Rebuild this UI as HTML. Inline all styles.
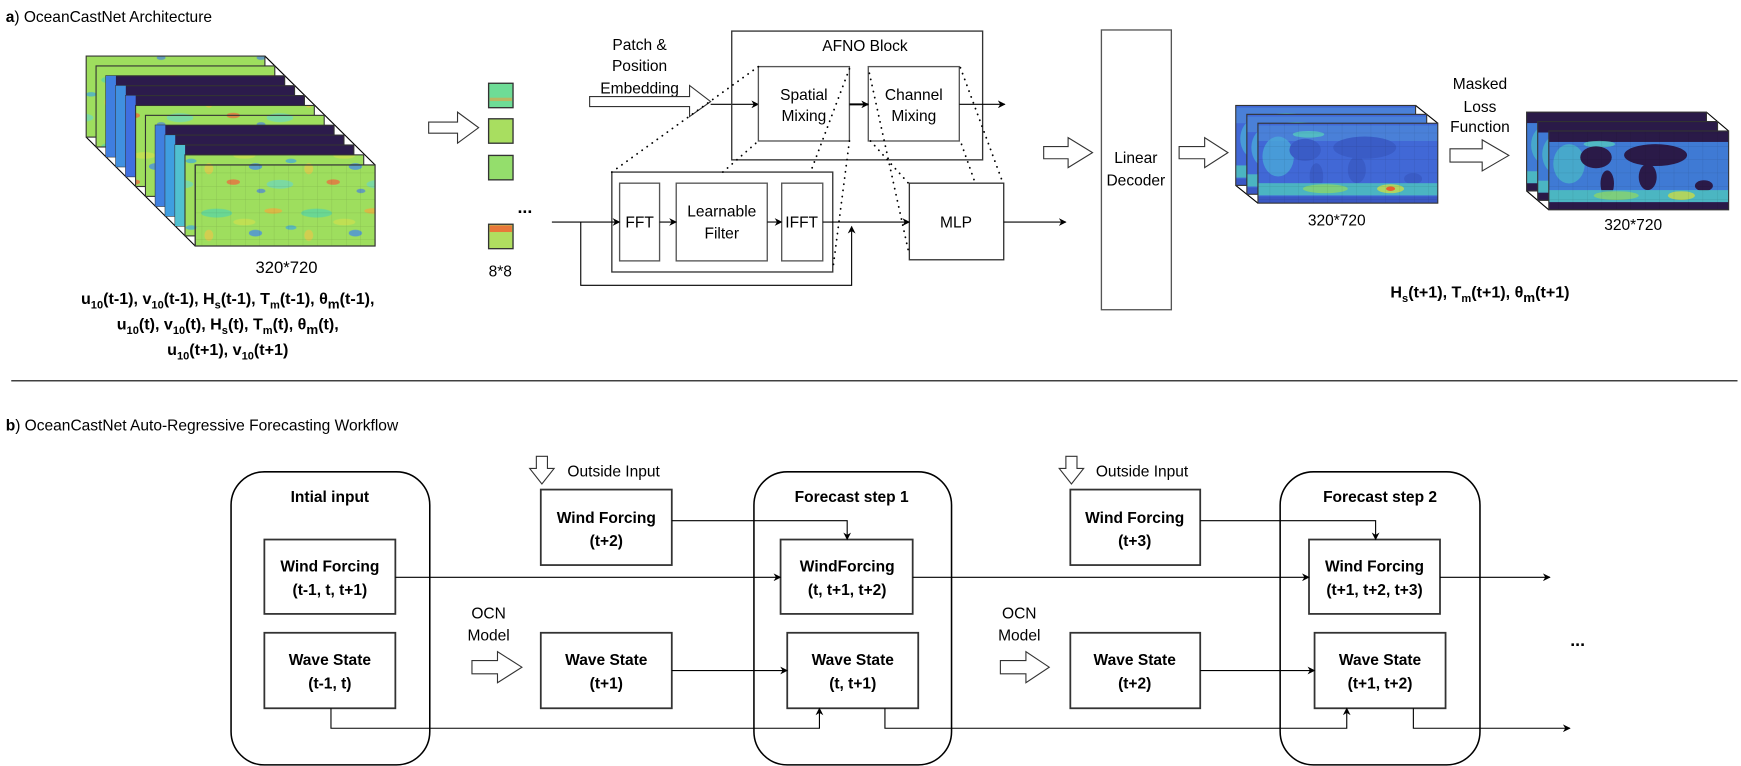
<!DOCTYPE html>
<html><head><meta charset="utf-8"><style>
html,body{margin:0;padding:0;background:#fff;}
svg{display:block;}
text{font-family:"Liberation Sans",sans-serif;fill:#000;}
</style></head><body>
<svg width="1741" height="766" viewBox="0 0 1568 690" xmlns="http://www.w3.org/2000/svg">
<defs>
<marker id="ar" viewBox="0 0 10 10" refX="9" refY="5" markerWidth="7" markerHeight="7" orient="auto" markerUnits="userSpaceOnUse"><path d="M0,0 L10,5 L0,10 L3,5 z" fill="#000" stroke="none"/></marker>
<pattern id="grid" width="13" height="12" patternUnits="userSpaceOnUse"><path d="M13,0 V12 M0,12 H13" stroke="#000" stroke-opacity="0.15" stroke-width="0.6" fill="none"/></pattern>
<pattern id="wind" width="90" height="60" patternUnits="userSpaceOnUse">
<g stroke="none">
<rect width="90" height="60" fill="#9ede5e"/>
<ellipse cx="15" cy="12" rx="14" ry="4" fill="#5cd6a0" opacity="0.8"/>
<ellipse cx="50" cy="30" rx="6" ry="3" fill="#4a90e0" opacity="0.8"/>
<ellipse cx="66" cy="10" rx="8" ry="2.5" fill="#e8b040" opacity="0.8"/>
<ellipse cx="30" cy="44" rx="6" ry="2.5" fill="#e87040" opacity="0.8"/>
<ellipse cx="72" cy="46" rx="12" ry="4" fill="#6cd8c0" opacity="0.7"/>
<ellipse cx="8" cy="32" rx="4" ry="5" fill="#e8c84a" opacity="0.7"/>
<ellipse cx="40" cy="20" rx="10" ry="3" fill="#c8e050" opacity="0.8"/>
<ellipse cx="82" cy="25" rx="5" ry="2" fill="#3fa8e0" opacity="0.7"/>
<ellipse cx="55" cy="52" rx="4" ry="2" fill="#4a80e0" opacity="0.7"/>
</g>
</pattern>
<symbol id="wave" viewBox="0 0 160 72" preserveAspectRatio="none">
<g stroke="none">
<rect width="160" height="72" fill="#4168d6"/>
<rect y="2" width="160" height="14" fill="#4a80d8"/>
<ellipse cx="45" cy="10" rx="14" ry="3" fill="#55c8c0" opacity="0.8"/>
<ellipse cx="18" cy="30" rx="14" ry="18" fill="#4aa8d8" opacity="0.8"/>
<ellipse cx="42" cy="24" rx="14" ry="10" fill="#3a5cc6"/>
<ellipse cx="52" cy="48" rx="6" ry="12" fill="#3a5cc6"/>
<ellipse cx="95" cy="22" rx="28" ry="10" fill="#3a5cc6"/>
<ellipse cx="88" cy="42" rx="8" ry="12" fill="#3a5cc6"/>
<ellipse cx="138" cy="50" rx="8" ry="5" fill="#3a5cc6"/>
<rect y="54" width="160" height="11" fill="#4cbcc0" opacity="0.9"/>
<ellipse cx="60" cy="59" rx="20" ry="4" fill="#8ad46c" opacity="0.8"/>
<ellipse cx="118" cy="59" rx="12" ry="4" fill="#c8dc48" opacity="0.8"/>
<ellipse cx="118" cy="59" rx="4" ry="2" fill="#e86030"/>
<rect y="66" width="160" height="6" fill="#3a58c4"/>
</g>
</symbol>
<symbol id="mwave" viewBox="0 0 160 72" preserveAspectRatio="none">
<g stroke="none">
<rect width="160" height="72" fill="#3f7ad4"/>
<rect width="160" height="10" fill="#2a1a48"/>
<ellipse cx="45" cy="12" rx="14" ry="3" fill="#55c8c0" opacity="0.8"/>
<ellipse cx="18" cy="30" rx="14" ry="18" fill="#4ab4c8" opacity="0.8"/>
<ellipse cx="42" cy="24" rx="14" ry="10" fill="#2a1a48"/>
<ellipse cx="52" cy="48" rx="6" ry="12" fill="#2a1a48"/>
<ellipse cx="95" cy="22" rx="28" ry="10" fill="#2a1a48"/>
<ellipse cx="88" cy="42" rx="8" ry="12" fill="#2a1a48"/>
<ellipse cx="138" cy="50" rx="8" ry="5" fill="#2a1a48"/>
<rect y="54" width="160" height="11" fill="#4cbcc0" opacity="0.9"/>
<ellipse cx="60" cy="59" rx="20" ry="4" fill="#8ad46c" opacity="0.8"/>
<ellipse cx="118" cy="59" rx="12" ry="4" fill="#c8dc48" opacity="0.8"/>
<rect y="65" width="160" height="7" fill="#2a1a48"/>
</g>
</symbol>
</defs>

<text x="5" y="20" font-size="14"><tspan font-weight="bold">a</tspan>) OceanCastNet Architecture</text>

<g stroke="#333" stroke-width="1">
<line x1="238.5" y1="50.5" x2="337.8" y2="148.6" stroke="#000"/>
<line x1="77.5" y1="123.5" x2="175.7" y2="221.6" stroke="#000"/>
<rect x="77.5" y="50.5" width="161" height="73" fill="url(#wind)"/>
<rect x="86.4" y="59.4" width="161" height="73" fill="url(#wind)"/>
<rect x="95.3" y="68.3" width="161" height="73" fill="#2c1b4c"/><rect x="95.3" y="68.3" width="9" height="73" fill="#3f7ee0" stroke="none"/>
<rect x="104.2" y="77.2" width="161" height="73" fill="#2c1b4c"/><rect x="104.2" y="77.2" width="9" height="73" fill="#4090e0" stroke="none"/>
<rect x="113.1" y="86.1" width="161" height="73" fill="#2c1b4c"/><rect x="113.1" y="86.1" width="9" height="73" fill="#3f6fe0" stroke="none"/>
<rect x="122" y="95" width="161" height="73" fill="url(#wind)"/>
<rect x="130.9" y="103.9" width="161" height="73" fill="url(#wind)"/>
<rect x="139.8" y="112.8" width="161" height="73" fill="#2c1b4c"/><rect x="139.8" y="112.8" width="9" height="73" fill="#4080e0" stroke="none"/>
<rect x="148.7" y="121.7" width="161" height="73" fill="#2c1b4c"/><rect x="148.7" y="121.7" width="9" height="73" fill="#3f9ee0" stroke="none"/>
<rect x="157.6" y="130.6" width="161" height="73" fill="#2c1b4c"/><rect x="157.6" y="130.6" width="9" height="73" fill="#50c0d0" stroke="none"/>
<rect x="166.5" y="139.5" width="161" height="73" fill="url(#wind)"/>
<rect x="175.7" y="148.6" width="162" height="73" fill="url(#wind)"/>
<rect x="175.7" y="148.6" width="162" height="73" fill="url(#grid)"/>
</g>
<text x="230" y="246" font-size="15">320*720</text>
<g font-size="14.5" font-weight="bold" text-anchor="middle">
<text x="205" y="274">u<tspan font-size="10" dy="4">10</tspan><tspan dy="-4">(t-1), v</tspan><tspan font-size="10" dy="4">10</tspan><tspan dy="-4">(t-1), H</tspan><tspan font-size="10" dy="4">s</tspan><tspan dy="-4">(t-1), T</tspan><tspan font-size="10" dy="4">m</tspan><tspan dy="-4">(t-1), θ</tspan><tspan font-size="12" dy="4">m</tspan><tspan dy="-4">(t-1),</tspan></text>
<text x="205" y="297">u<tspan font-size="10" dy="4">10</tspan><tspan dy="-4">(t), v</tspan><tspan font-size="10" dy="4">10</tspan><tspan dy="-4">(t), H</tspan><tspan font-size="10" dy="4">s</tspan><tspan dy="-4">(t), T</tspan><tspan font-size="10" dy="4">m</tspan><tspan dy="-4">(t), θ</tspan><tspan font-size="12" dy="4">m</tspan><tspan dy="-4">(t),</tspan></text>
<text x="205" y="320">u<tspan font-size="10" dy="4">10</tspan><tspan dy="-4">(t+1), v</tspan><tspan font-size="10" dy="4">10</tspan><tspan dy="-4">(t+1)</tspan></text>
</g>

<path d="M386,110 H412 V101 L431,115 L412,129 V120 H386 Z" fill="#fff" stroke="#333"/>

<g stroke="#333" stroke-width="1.2">
<rect x="440" y="75" width="22" height="22" fill="#6edc96"/>
<rect x="440" y="107" width="22" height="22" fill="#a8de60"/>
<rect x="440" y="140" width="22" height="22" fill="#94de6c"/>
<rect x="440" y="202" width="22" height="22" fill="#b0de60"/>
</g>
<rect x="441" y="203" width="20" height="6" fill="#e8783a"/>
<rect x="441" y="88" width="20" height="3" fill="#e8a040" opacity="0.6"/>
<text x="440" y="249" font-size="14">8*8</text>
<text x="466" y="192" font-size="16" font-weight="bold">...</text>

<g font-size="14" text-anchor="middle">
<text x="576" y="45">Patch &amp;</text>
<text x="576" y="64">Position</text>
<text x="576" y="84">Embedding</text>
</g>
<path d="M531,87 H621 V77 L640,91.5 L621,105 V96 H531 Z" fill="#fff" stroke="#333"/>
<line x1="640" y1="94" x2="683" y2="94" stroke="#000" marker-end="url(#ar)"/>

<g fill="none" stroke="#555" stroke-width="1.2">
<rect x="659" y="28" width="226" height="116" stroke="#333"/>
<rect x="683" y="60" width="82" height="67"/>
<rect x="782" y="60" width="82" height="67"/>
<rect x="551" y="155" width="199" height="90" stroke="#333"/>
<rect x="558" y="165" width="36" height="70"/>
<rect x="609" y="165" width="82" height="70"/>
<rect x="704" y="165" width="37" height="70"/>
<rect x="819" y="165" width="85" height="69" stroke="#333"/>
</g>
<text x="779" y="46" font-size="14" text-anchor="middle">AFNO Block</text>
<g font-size="14" text-anchor="middle">
<text x="724" y="90">Spatial</text><text x="724" y="109">Mixing</text>
<text x="823" y="90">Channel</text><text x="823" y="109">Mixing</text>
<text x="576" y="205">FFT</text>
<text x="650" y="195">Learnable</text><text x="650" y="215">Filter</text>
<text x="722" y="205">IFFT</text>
<text x="861" y="205">MLP</text>
</g>
<g stroke="#000" fill="none">
<line x1="765" y1="94" x2="782" y2="94" stroke-width="1.8" marker-end="url(#ar)"/>
<line x1="864" y1="94" x2="905" y2="94" marker-end="url(#ar)"/>
<line x1="497" y1="200" x2="558" y2="200" marker-end="url(#ar)"/>
<line x1="594" y1="200" x2="609" y2="200" marker-end="url(#ar)"/>
<line x1="691" y1="200" x2="704" y2="200" marker-end="url(#ar)"/>
<line x1="741" y1="200" x2="819" y2="200" marker-end="url(#ar)"/>
<polyline points="523,200 523,257 767,257 767,204" marker-end="url(#ar)"/>
<line x1="904" y1="200" x2="960" y2="200" marker-end="url(#ar)"/>
</g>
<g stroke="#000" stroke-width="1.6" stroke-dasharray="0.1 5.5" stroke-linecap="round" fill="none">
<line x1="551" y1="155" x2="683" y2="60"/>
<line x1="651" y1="155" x2="683" y2="127"/>
<line x1="765" y1="62" x2="730" y2="155"/>
<line x1="765" y1="127" x2="750" y2="243"/>
<line x1="783" y1="66" x2="819" y2="230"/>
<line x1="784" y1="127" x2="819" y2="166"/>
<line x1="865" y1="61" x2="903" y2="164"/>
<line x1="866" y1="130" x2="878" y2="164"/>
</g>

<path d="M940,132 H962 V124 L984,137.5 L962,151 V143 H940 Z" fill="#fff" stroke="#333"/>
<rect x="992" y="27" width="63" height="252" fill="#fff" stroke="#555" stroke-width="1.2"/>
<text x="1023" y="147" font-size="14" text-anchor="middle">Linear</text>
<text x="1023" y="167" font-size="14" text-anchor="middle">Decoder</text>
<path d="M1062,132 H1085 V124 L1106,137.5 L1085,151 V143 H1062 Z" fill="#fff" stroke="#333"/>

<line x1="1275" y1="95" x2="1295" y2="111" stroke="#000"/>
<line x1="1113" y1="167" x2="1133" y2="183" stroke="#000"/>
<use href="#wave" x="1113" y="95" width="162" height="72"/><rect x="1113" y="95" width="162" height="72" fill="none" stroke="#333"/>
<use href="#wave" x="1123" y="103" width="162" height="72"/><rect x="1123" y="103" width="162" height="72" fill="none" stroke="#333"/>
<use href="#wave" x="1133" y="111" width="162" height="72"/><rect x="1133" y="111" width="162" height="72" fill="url(#grid)" stroke="#333"/>
<text x="1204" y="203" font-size="14" text-anchor="middle">320*720</text>

<g font-size="14" text-anchor="middle">
<text x="1333" y="80">Masked</text><text x="1333" y="101">Loss</text><text x="1333" y="119">Function</text>
</g>
<path d="M1306,134 H1335 V126 L1359,140 L1335,154 V146 H1306 Z" fill="#fff" stroke="#333"/>

<line x1="1537" y1="101" x2="1557" y2="118" stroke="#000"/>
<line x1="1375" y1="172" x2="1395" y2="189" stroke="#000"/>
<use href="#mwave" x="1375" y="101" width="162" height="71"/><rect x="1375" y="101" width="162" height="71" fill="none" stroke="#333"/>
<use href="#mwave" x="1385" y="109.5" width="162" height="71"/><rect x="1385" y="109.5" width="162" height="71" fill="none" stroke="#333"/>
<use href="#mwave" x="1395" y="118" width="162" height="71"/><rect x="1395" y="118" width="162" height="71" fill="url(#grid)" stroke="#333"/>
<text x="1471" y="207" font-size="14" text-anchor="middle">320*720</text>
<text x="1333" y="268" font-size="14.5" font-weight="bold" text-anchor="middle">H<tspan font-size="10" dy="4">s</tspan><tspan dy="-4">(t+1), T</tspan><tspan font-size="10" dy="4">m</tspan><tspan dy="-4">(t+1), θ</tspan><tspan font-size="12" dy="4">m</tspan><tspan dy="-4">(t+1)</tspan></text>

<line x1="10" y1="343" x2="1565" y2="343" stroke="#000" stroke-width="1"/>

<text x="5" y="388" font-size="14"><tspan font-weight="bold">b</tspan>) OceanCastNet Auto-Regressive Forecasting Workflow</text>

<g fill="none" stroke="#000" stroke-width="1.4">
<rect x="208" y="425" width="179" height="264" rx="30"/>
<rect x="679" y="425" width="178" height="264" rx="30"/>
<rect x="1153" y="425" width="180" height="264" rx="30"/>
</g>
<g fill="#fff" stroke="#333" stroke-width="1.6">
<rect x="238" y="486" width="118" height="67"/>
<rect x="238" y="570" width="118" height="68"/>
<rect x="487" y="441" width="118" height="68"/>
<rect x="487" y="570" width="118" height="68"/>
<rect x="703" y="486" width="119" height="67"/>
<rect x="709" y="570" width="118" height="68"/>
<rect x="964" y="441" width="117" height="68"/>
<rect x="964" y="570" width="117" height="68"/>
<rect x="1179" y="486" width="118" height="67"/>
<rect x="1184" y="570" width="118" height="68"/>
</g>
<g font-size="14" font-weight="bold" text-anchor="middle">
<text x="297" y="452">Intial input</text>
<text x="767" y="452">Forecast step 1</text>
<text x="1243" y="452">Forecast step 2</text>
<text x="297" y="515">Wind Forcing</text><text x="297" y="536">(t-1, t, t+1)</text>
<text x="297" y="599">Wave State</text><text x="297" y="620">(t-1, t)</text>
<text x="546" y="471">Wind Forcing</text><text x="546" y="492">(t+2)</text>
<text x="546" y="599">Wave State</text><text x="546" y="620">(t+1)</text>
<text x="763" y="515">WindForcing</text><text x="763" y="536">(t, t+1, t+2)</text>
<text x="768" y="599">Wave State</text><text x="768" y="620">(t, t+1)</text>
<text x="1022" y="471">Wind Forcing</text><text x="1022" y="492">(t+3)</text>
<text x="1022" y="599">Wave State</text><text x="1022" y="620">(t+2)</text>
<text x="1238" y="515">Wind Forcing</text><text x="1238" y="536">(t+1, t+2, t+3)</text>
<text x="1243" y="599">Wave State</text><text x="1243" y="620">(t+1, t+2)</text>
</g>
<g font-size="14">
<text x="511" y="429">Outside Input</text>
<text x="987" y="429">Outside Input</text>
<text x="440" y="557" text-anchor="middle">OCN</text><text x="440" y="577" text-anchor="middle">Model</text>
<text x="918" y="557" text-anchor="middle">OCN</text><text x="918" y="577" text-anchor="middle">Model</text>
</g>
<g fill="#fff" stroke="#333">
<path d="M483,411 H493 V422 H499 L488,436 L477,422 H483 Z"/>
<path d="M960,411 H970 V422 H976 L965,436 L954,422 H960 Z"/>
<path d="M425,595 H448 V587 L470,601 L448,615 V607 H425 Z"/>
<path d="M901,595 H924 V587 L945,601 L924,615 V607 H901 Z"/>
</g>
<text x="1421" y="582" font-size="16" font-weight="bold" text-anchor="middle">...</text>
<g fill="none" stroke="#000" stroke-width="1">
<line x1="356" y1="520" x2="703" y2="520" marker-end="url(#ar)"/>
<polyline points="605,469 763,469 763,486" marker-end="url(#ar)"/>
<line x1="605" y1="604" x2="709" y2="604" marker-end="url(#ar)"/>
<polyline points="298,638 298,656 738,656 738,638" marker-end="url(#ar)"/>
<line x1="822" y1="520" x2="1179" y2="520" marker-end="url(#ar)"/>
<polyline points="1081,469 1239,469 1239,486" marker-end="url(#ar)"/>
<line x1="1081" y1="604" x2="1184" y2="604" marker-end="url(#ar)"/>
<polyline points="797,638 797,656 1213,656 1213,638" marker-end="url(#ar)"/>
<line x1="1297" y1="520" x2="1396" y2="520" marker-end="url(#ar)"/>
<polyline points="1273,638 1273,656 1414,656" marker-end="url(#ar)"/>
</g>
</svg>
</body></html>
